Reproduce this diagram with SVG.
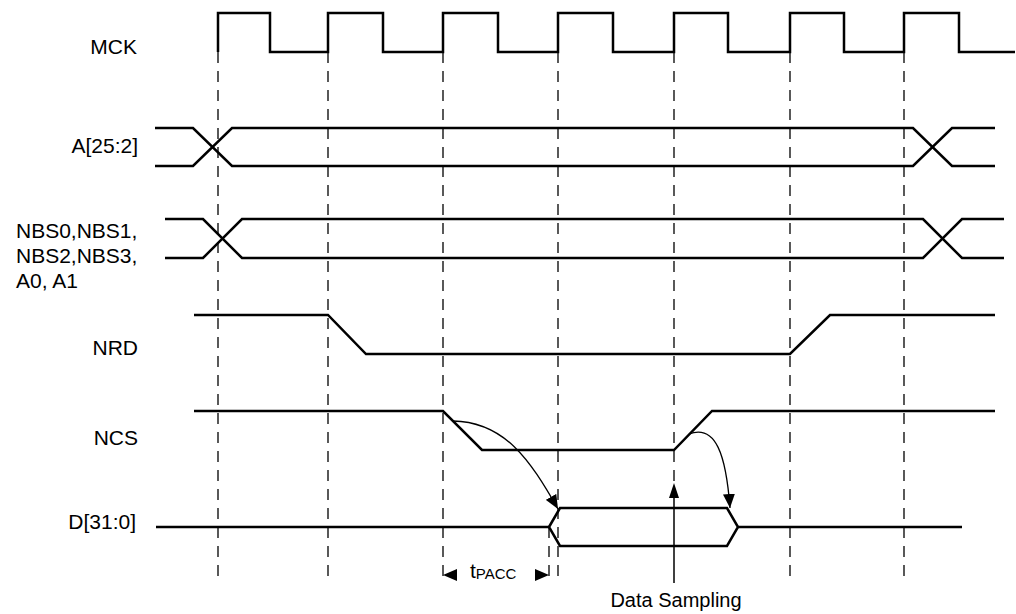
<svg xmlns="http://www.w3.org/2000/svg" width="1016" height="614" viewBox="0 0 1016 614">
  <defs>
    <style>
      .lbl { font-family: "Liberation Sans", Arial, Helvetica, sans-serif; font-size: 21px; fill: #000; }
      .sig { fill: none; stroke: #000; stroke-width: 2.5; stroke-linejoin: miter; }
      .dash { fill: none; stroke: #000; stroke-width: 1.3; stroke-dasharray: 11 8; }
      .curve { fill: none; stroke: #000; stroke-width: 1.3; }
      .solid { fill: none; stroke: #000; stroke-width: 1.5; }
      .head { fill: #000; stroke: none; }
    </style>
    <marker id="arr" markerUnits="userSpaceOnUse" markerWidth="14" markerHeight="12" refX="14" refY="6" orient="auto">
      <path d="M0,0 L14,6 L0,12 z" fill="#000"/>
    </marker>
  </defs>
  <rect width="1016" height="614" fill="#fff"/>

  <g id="connectors">
    <path class="dash" d="M218,52 V583"/>
    <path class="dash" d="M328,52 V583"/>
    <path class="dash" d="M443,52 V583"/>
    <path class="dash" d="M558,52 V583"/>
    <path class="dash" d="M674,52 V484"/>
    <path class="dash" d="M790,52 V583"/>
    <path class="dash" d="M904,52 V579"/>
    <path class="dash" d="M549,527 V583"/>
    <path class="curve" d="M453,421 C505,422 530,460 558,509" marker-end="url(#arr)"/>
    <path class="curve" d="M689,434 C716,424 726,455 730,508" marker-end="url(#arr)"/>
    <g id="data-sampling">
      <path class="solid" d="M674,583 V492"/>
      <polygon class="head" points="674,483 679,498 669,498"/>
      <text class="lbl" x="676" y="607" text-anchor="middle" style="font-size:20px">Data Sampling</text>
    </g>
    <g id="tpacc">
      <polygon class="head" points="443,575 457,569 457,581"/>
      <polygon class="head" points="549,575 535,569 535,581"/>
      <text class="lbl" x="470" y="578">t<tspan style="font-size:15px" dy="1">PACC</tspan></text>
    </g>
  </g>

  <g id="MCK">
    <text class="lbl" x="137" y="54" text-anchor="end">MCK</text>
    <path class="sig" d="M218,52 V13 H270 V52 H328 V13 H383 V52 H443 V13 H498 V52 H558 V13 H613 V52 H674 V13 H728 V52 H790 V13 H844 V52 H904 V13 H959 V52 H1015"/>
  </g>

  <g id="A25_2">
    <text class="lbl" x="138" y="153" text-anchor="end">A[25:2]</text>
    <path class="sig" d="M155,128 H193 L232,166 H913 L952,128 H995"/>
    <path class="sig" d="M155,166 H193 L232,128 H913 L952,166 H995"/>
  </g>

  <g id="NBS">
    <text class="lbl" x="16" y="238">NBS0,NBS1,</text>
    <text class="lbl" x="16" y="263">NBS2,NBS3,</text>
    <text class="lbl" x="16" y="288">A0, A1</text>
    <path class="sig" d="M165,219 H203 L242,258 H923 L962,219 H1004"/>
    <path class="sig" d="M165,258 H203 L242,219 H923 L962,258 H1004"/>
  </g>

  <g id="NRD">
    <text class="lbl" x="138" y="355" text-anchor="end">NRD</text>
    <path class="sig" d="M194,315 H328 L366,354 H790 L830,315 H995"/>
  </g>

  <g id="NCS">
    <text class="lbl" x="138" y="445" text-anchor="end">NCS</text>
    <path class="sig" d="M194,411 H443 L482,450 H674 L712,411 H995"/>
  </g>

  <g id="D31_0">
    <text class="lbl" x="136" y="529" text-anchor="end">D[31:0]</text>
    <path class="sig" d="M156,527 H549"/>
    <path class="sig" d="M549,527 L560,508 H727 L738,527 L727,546 H560 Z"/>
    <path class="sig" d="M738,527 H962"/>
  </g>
</svg>
